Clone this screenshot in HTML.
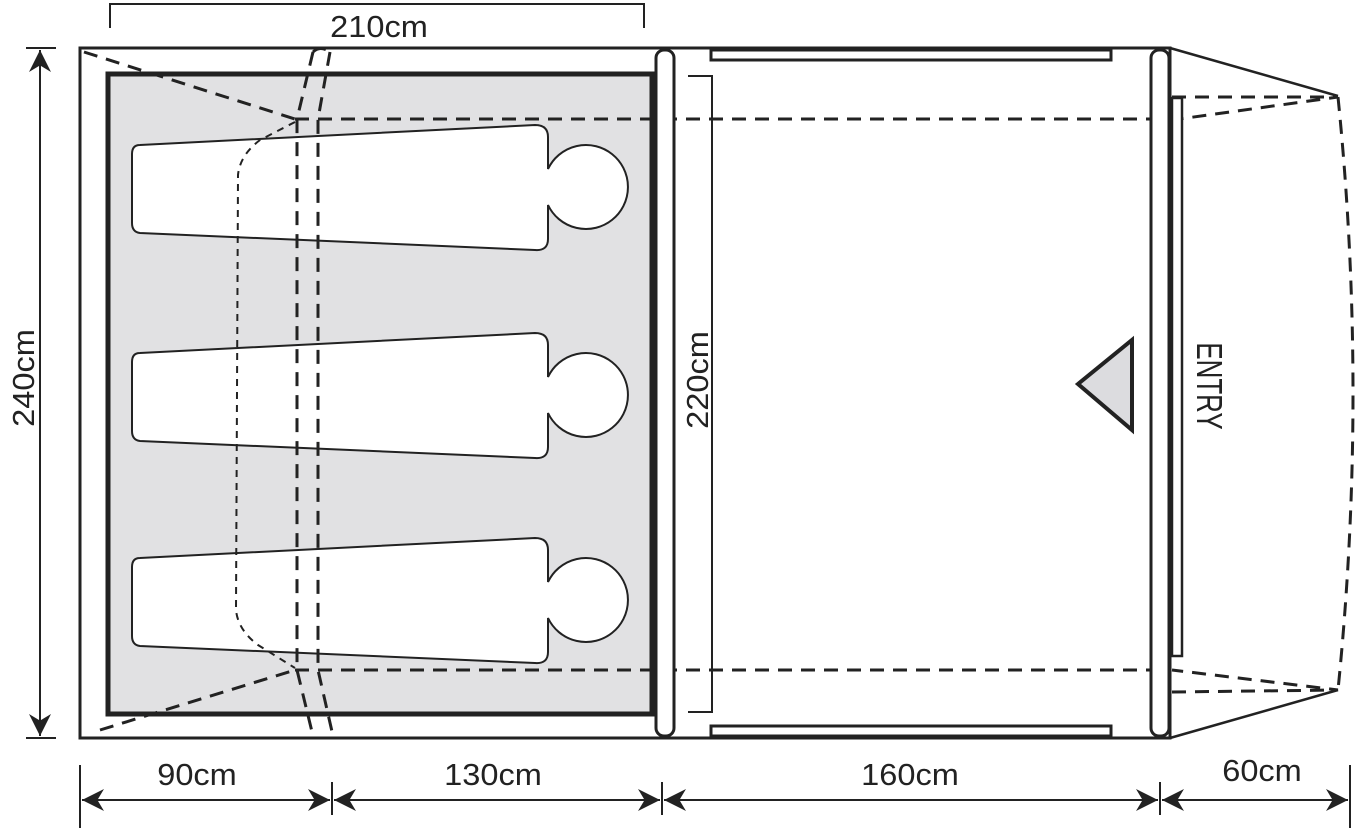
<!DOCTYPE html>
<html><head><meta charset="utf-8"><style>
html,body{margin:0;padding:0;background:#fff;}
svg{display:block;}
text{font-family:"Liberation Sans",sans-serif;fill:#222;}
</style></head><body>
<svg width="1360" height="832" viewBox="0 0 1360 832" xmlns="http://www.w3.org/2000/svg">
<defs>
<marker id="ar" viewBox="0 0 10 10" refX="10" refY="5" markerWidth="22" markerHeight="22" markerUnits="userSpaceOnUse" orient="auto-start-reverse">
<path d="M0,0 L10,5 L0,10 L3,5 z" fill="#222"/></marker>
<g id="bag">
<path d="M140,-42 L535,-62 Q548,-62 548,-50 L548,-18 A42,42 0 1 1 548,18 L548,52 Q548,64 535,63 L140,46 Q132,45 132,36 L132,-33 Q132,-42 140,-42 Z" fill="#fff" stroke="#222" stroke-width="2"/>
</g>
</defs>
<rect x="80" y="48" width="1090" height="690" fill="#fff" stroke="#222" stroke-width="3"/>
<rect x="108" y="74" width="544" height="640" fill="#e1e1e3" stroke="#222" stroke-width="5"/>
<use href="#bag" transform="translate(0,187)"/>
<use href="#bag" transform="translate(0,395)"/>
<use href="#bag" transform="translate(0,600)"/>
<g fill="none" stroke="#222" stroke-width="3" stroke-dasharray="14,9">
<path d="M84,52 L295,119"/>
<path d="M100,730 L295,670"/>
<path d="M295,119 L1170,119"/>
<path d="M295,670 L1170,670"/>
<path d="M1172,97 L1338,97 L1172,120"/>
<path d="M1172,692 L1338,690 L1172,670"/>
<path d="M1338,97 Q1368,393 1338,690"/>
<path d="M313,52 Q320,45 330,52 M313,52 L297,119 L297,670 L313,736 M330,52 L318,119 L318,670 L333,736"/>
</g>
<path d="M295,122 L260,140 Q240,155 238,175 L236,610 Q238,630 258,645 L295,668" fill="none" stroke="#222" stroke-width="2" stroke-dasharray="7,6"/>
<rect x="656" y="50" width="18" height="686" rx="8" fill="#fff" stroke="#222" stroke-width="3"/>
<rect x="1151" y="50" width="18" height="686" rx="8" fill="#fff" stroke="#222" stroke-width="3"/>
<rect x="711" y="50" width="400" height="10" fill="#fff" stroke="#222" stroke-width="3"/>
<rect x="711" y="726" width="400" height="10" fill="#fff" stroke="#222" stroke-width="3"/>
<rect x="1172" y="98" width="10" height="558" fill="#fff" stroke="#222" stroke-width="2.5"/>
<path d="M1170,48 L1338,96 M1170,738 L1338,690" stroke="#222" stroke-width="2.5" fill="none"/>
<polygon points="1078,384 1132,340 1132,430" fill="#dcdcdf" stroke="#222" stroke-width="4"/>
<text transform="translate(1197,386) rotate(90) scale(0.72,1)" text-anchor="middle" font-size="36">ENTRY</text>
<g stroke="#222" stroke-width="2" fill="none">
<path d="M110,28 L110,4 L644,4 L644,28"/>
<path d="M688,76 L712,76 L712,712 L688,712"/>
<path d="M26,48 L56,48 M26,738 L56,738"/>
<path d="M40,50 L40,736" marker-start="url(#ar)" marker-end="url(#ar)"/>
<path d="M80,765 L80,828 M332,782 L332,815 M662,782 L662,815 M1160,782 L1160,815 M1350,765 L1350,828"/>
<path d="M82,800 L330,800" marker-start="url(#ar)" marker-end="url(#ar)"/>
<path d="M334,800 L660,800" marker-start="url(#ar)" marker-end="url(#ar)"/>
<path d="M664,800 L1158,800" marker-start="url(#ar)" marker-end="url(#ar)"/>
<path d="M1162,800 L1348,800" marker-start="url(#ar)" marker-end="url(#ar)"/>
</g>
<g font-size="31">
<text transform="translate(379,37) scale(1.05,1)" text-anchor="middle">210cm</text>
<text transform="translate(34,378) rotate(-90) scale(1.05,1)" text-anchor="middle">240cm</text>
<text transform="translate(708,380) rotate(-90) scale(1.05,1)" text-anchor="middle">220cm</text>
<text transform="translate(197,785) scale(1.05,1)" text-anchor="middle">90cm</text>
<text transform="translate(493,785) scale(1.05,1)" text-anchor="middle">130cm</text>
<text transform="translate(910,785) scale(1.05,1)" text-anchor="middle">160cm</text>
<text transform="translate(1262,781) scale(1.05,1)" text-anchor="middle">60cm</text>
</g>
</svg>
</body></html>
